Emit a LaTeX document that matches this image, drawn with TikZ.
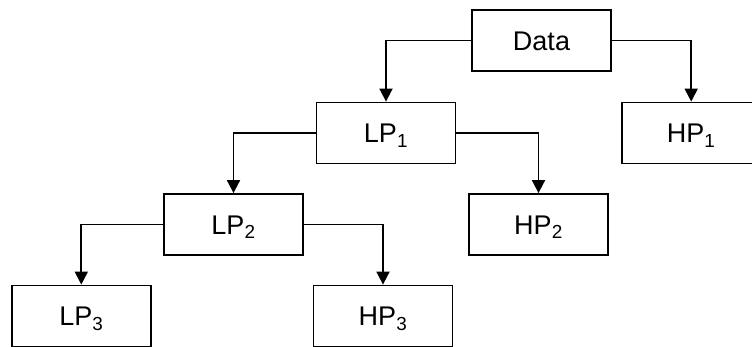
\documentclass[tikz,border=0pt]{standalone}
\usepackage{fontspec}
\setmainfont{Liberation Sans}
\usetikzlibrary{arrows.meta}
\begin{document}
\begin{tikzpicture}[x=1pt,y=-1pt,
  box/.style={draw, line width=1.8pt, minimum width=139pt, minimum height=61pt,
    inner sep=0pt, text height=19.3pt, text depth=0pt, font=\fontsize{27}{30}\selectfont},
  conn/.style={line width=1.8pt, -{Triangle[width=13pt,length=13pt]}}]
\useasboundingbox (0,0) rectangle (752,347);
\clip (0,0) rectangle (752,347);
\node[box] (data) at (541.5,40.5) {Data};
\node[box] (lp1) at (386,133) {LP\textsubscript{1}};
\node[box] (hp1) at (691.2,133) {HP\textsubscript{1}};
\node[box] (lp2) at (233.5,224.5) {LP\textsubscript{2}};
\node[box] (hp2) at (538.5,224.5) {HP\textsubscript{2}};
\node[box] (lp3) at (81.3,316) {LP\textsubscript{3}};
\node[box] (hp3) at (383,316) {HP\textsubscript{3}};
\draw[conn] (data.west) -| (lp1.north);
\draw[conn] (data.east) -| (hp1.north);
\draw[conn] (lp1.west) -| (lp2.north);
\draw[conn] (lp1.east) -| (hp2.north);
\draw[conn] (lp2.west) -| (lp3.north);
\draw[conn] (lp2.east) -| (hp3.north);
\end{tikzpicture}
\end{document}
